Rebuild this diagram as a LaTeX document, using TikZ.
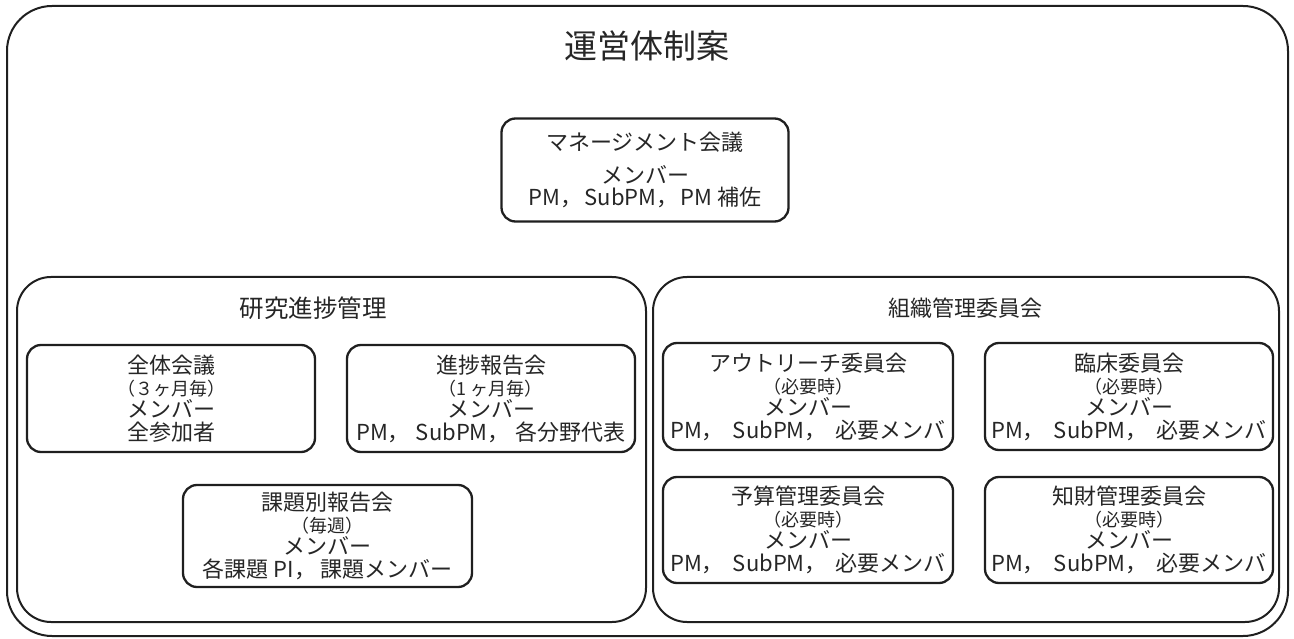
\documentclass[tikz,border=0pt]{standalone}
\usepackage{fontspec}
\setmainfont{Noto Sans CJK JP}
\newcommand\smtxt{\fontsize{18}{19}\selectfont}
\newcommand\cm[1][9pt]{，\hspace{#1}}
\tikzset{
  frame/.style={draw=black!88, line width=2pt},
  box/.style={draw=black!88, line width=2.3pt, rounded corners=14pt, inner sep=0pt,
    align=center, font=\fontsize{22}{23}\selectfont, text=black!85},
  ptitle/.style={inner sep=0pt, text=black!85},
}
\begin{document}
\begin{tikzpicture}[x=1pt,y=-1pt]
\useasboundingbox (0,0) rectangle (1294,639);
\draw[frame, rounded corners=45pt] (7,6) rectangle (1288,636);
\draw[frame, rounded corners=34pt] (17,277) rectangle (646,622);
\draw[frame, rounded corners=34pt] (653,277) rectangle (1279,622);

\node[inner sep=0pt, font=\fontsize{33}{35}\selectfont, text=black!85] (title) at (647,46) {運営体制案};
\node[ptitle, font=\fontsize{24.5}{26}\selectfont] (left) at (313,308) {研究進捗管理};
\node[ptitle, font=\fontsize{22}{24}\selectfont] (right) at (965,308) {組織管理委員会};

\node[box, minimum width=287pt, minimum height=103pt] (mgmt) at (645,170)
  {マネージメント会議\\[10pt]メンバー\\[-1pt]PM\cm[2pt]SubPM\cm[2pt]PM 補佐};

\node[box, minimum width=288pt, minimum height=107pt] (zentai) at (171,398.5)
  {全体会議\\[-1pt]{\smtxt （３ヶ月毎）}\\[-1pt]メンバー\\全参加者};
\node[box, minimum width=288pt, minimum height=107pt] (shinchoku) at (491,398.5)
  {進捗報告会\\[-1pt]{\smtxt （1 ヶ月毎）}\\[-1pt]メンバー\\PM\cm[6pt]SubPM\cm[6pt]各分野代表};
\node[box, minimum width=289pt, minimum height=102pt] (kadai) at (327.5,536)
  {課題別報告会\\[-1pt]{\smtxt （毎週）}\\[-1pt]メンバー\\各課題 PI\cm[4pt]課題メンバー};

\node[box, minimum width=290pt, minimum height=107pt] (outreach) at (808,396.5)
  {アウトリーチ委員会\\[-1pt]{\smtxt （必要時）}\\[-1pt]メンバー\\PM\cm SubPM\cm 必要メンバ};
\node[box, minimum width=288pt, minimum height=107pt] (rinsho) at (1129,396.5)
  {臨床委員会\\[-1pt]{\smtxt （必要時）}\\[-1pt]メンバー\\PM\cm SubPM\cm 必要メンバ};
\node[box, minimum width=290pt, minimum height=106pt] (yosan) at (808,530)
  {予算管理委員会\\[-1pt]{\smtxt （必要時）}\\[-1pt]メンバー\\PM\cm SubPM\cm 必要メンバ};
\node[box, minimum width=288pt, minimum height=106pt] (chizai) at (1129,530)
  {知財管理委員会\\[-1pt]{\smtxt （必要時）}\\[-1pt]メンバー\\PM\cm SubPM\cm 必要メンバ};
\end{tikzpicture}
\end{document}
